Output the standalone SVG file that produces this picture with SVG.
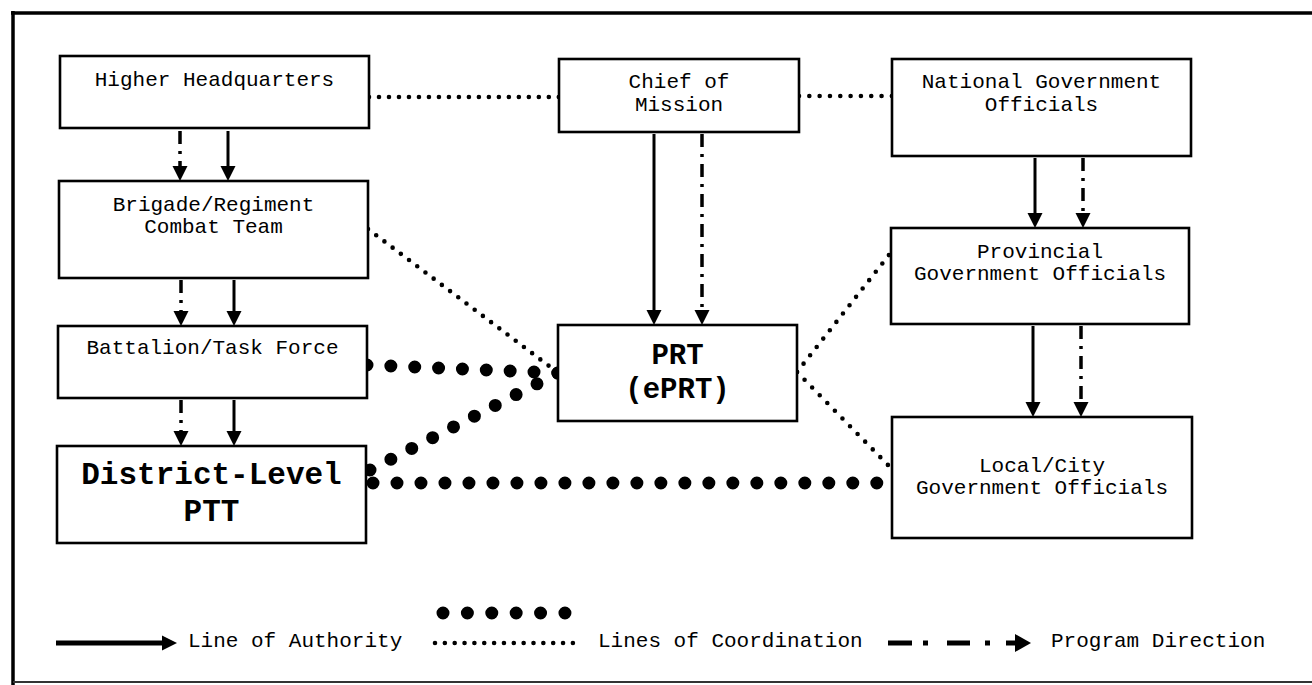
<svg xmlns="http://www.w3.org/2000/svg" width="1312" height="685" viewBox="0 0 1312 685">
<style>
.box{fill:#fff;stroke:#000;stroke-width:2.6}
.t{font-family:"Liberation Mono","Courier New",monospace;font-size:21px;fill:#000;text-anchor:middle}
.tb{font-family:"Liberation Mono","Courier New",monospace;font-size:31px;font-weight:bold;fill:#000;text-anchor:middle}
.tp{font-family:"Liberation Mono","Courier New",monospace;font-size:29px;font-weight:bold;fill:#000;text-anchor:middle}
.lg{font-family:"Liberation Mono","Courier New",monospace;font-size:21px;fill:#000}
.auth{stroke:#000;stroke-width:3;fill:none;marker-end:url(#ah)}
.prog{stroke:#000;stroke-width:3.5;fill:none;stroke-dasharray:13 7 3 7;marker-end:url(#ah)}
.ds{stroke:#000;stroke-width:4.6;stroke-linecap:round;fill:none}
.db{stroke:#000;stroke-width:13;stroke-linecap:round;fill:none}
</style>
<defs>
<marker id="ah" markerUnits="userSpaceOnUse" markerWidth="16" markerHeight="16" refX="1" refY="7.5" orient="auto">
<path d="M0,0 L15,7.5 L0,15 z" fill="#000"/>
</marker>
</defs>
<rect x="0" y="0" width="1312" height="685" fill="#fff"/>
<g id="frame">
<line x1="11" y1="13" x2="1312" y2="13" stroke="#000" stroke-width="3.5"/>
<line x1="13" y1="11" x2="13" y2="685" stroke="#000" stroke-width="3.5"/>
<line x1="13" y1="682" x2="1312" y2="682" stroke="#333" stroke-width="2"/>
</g>
<g id="connectors">
<line class="auth" x1="228" y1="131" x2="228" y2="167"/>
<line class="prog" x1="180" y1="131" x2="180" y2="167"/>
<line class="auth" x1="234" y1="280" x2="234" y2="312"/>
<line class="prog" x1="181" y1="280" x2="181" y2="312"/>
<line class="auth" x1="234" y1="400" x2="234" y2="432"/>
<line class="prog" x1="181" y1="400" x2="181" y2="432"/>
<line class="auth" x1="654" y1="134" x2="654" y2="311"/>
<line class="prog" x1="702" y1="134" x2="702" y2="311"/>
<line class="auth" x1="1035" y1="158" x2="1035" y2="214"/>
<line class="prog" x1="1083" y1="158" x2="1083" y2="214"/>
<line class="auth" x1="1033" y1="326" x2="1033" y2="403"/>
<line class="prog" x1="1081" y1="326" x2="1081" y2="403"/>
<line class="ds" x1="369" y1="97" x2="559" y2="97" stroke-dasharray="0 9.99"/>
<line class="ds" x1="799" y1="96" x2="892" y2="96" stroke-dasharray="0 10.32"/>
<line class="ds" x1="368" y1="229" x2="557" y2="372" stroke-dasharray="0 10.29"/>
<line class="ds" x1="797" y1="372" x2="889" y2="255" stroke-dasharray="0 10.62"/>
<line class="ds" x1="797" y1="372" x2="888" y2="465" stroke-dasharray="0 10.83"/>
<line class="db" x1="367" y1="365" x2="558" y2="373" stroke-dasharray="0 23.88"/>
<line class="db" x1="370" y1="470" x2="558" y2="373" stroke-dasharray="0 23.49"/>
<line class="db" x1="373" y1="483" x2="877" y2="483" stroke-dasharray="0 23.99"/>
</g>
<g id="hhq">
<rect class="box" x="60" y="56" width="309" height="72"/>
<text class="t" x="214.5" y="86">Higher Headquarters</text>
</g>
<g id="chief">
<rect class="box" x="559" y="59" width="240" height="73"/>
<text class="t" x="679" y="88">Chief of</text>
<text class="t" x="679" y="111">Mission</text>
</g>
<g id="national">
<rect class="box" x="892" y="59" width="299" height="97"/>
<text class="t" x="1041.5" y="88">National Government</text>
<text class="t" x="1041.5" y="111">Officials</text>
</g>
<g id="brigade">
<rect class="box" x="59" y="181" width="309" height="97"/>
<text class="t" x="213.5" y="211">Brigade/Regiment</text>
<text class="t" x="213.5" y="233">Combat Team</text>
</g>
<g id="provincial">
<rect class="box" x="891" y="228" width="298" height="96"/>
<text class="t" x="1040" y="258">Provincial</text>
<text class="t" x="1040" y="280">Government Officials</text>
</g>
<g id="battalion">
<rect class="box" x="58" y="326" width="309" height="72"/>
<text class="t" x="212.5" y="354">Battalion/Task Force</text>
</g>
<g id="district">
<rect class="box" x="57" y="446" width="309" height="97"/>
<text class="tb" x="211.5" y="484">District-Level</text>
<text class="tb" x="211.5" y="521">PTT</text>
</g>
<g id="prt">
<rect class="box" x="558" y="325" width="239" height="96"/>
<text class="tp" x="677.5" y="364">PRT</text>
<text class="tp" x="677.5" y="398">(ePRT)</text>
</g>
<g id="local">
<rect class="box" x="892" y="417" width="300" height="121"/>
<text class="t" x="1042" y="472">Local/City</text>
<text class="t" x="1042" y="494">Government Officials</text>
</g>
<g id="legend">
<line x1="56" y1="643" x2="164" y2="643" stroke="#000" stroke-width="5"/>
<polygon points="162,635.5 177,643 162,650.5" fill="#000"/>
<text class="lg" x="188" y="647">Line of Authority</text>
<line class="db" x1="443" y1="613" x2="565" y2="613" stroke-width="12" stroke-dasharray="0 24.39"/>
<line class="ds" x1="435" y1="643" x2="573" y2="643" stroke-width="4" stroke-dasharray="0 9.85"/>
<text class="lg" x="598" y="647">Lines of Coordination</text>
<rect x="888" y="640.5" width="24" height="5" fill="#000"/>
<rect x="923" y="640.5" width="5" height="5" fill="#000"/>
<rect x="947" y="640.5" width="23" height="5" fill="#000"/>
<rect x="985" y="640.5" width="5" height="5" fill="#000"/>
<line x1="1006" y1="643" x2="1017" y2="643" stroke="#000" stroke-width="5"/>
<polygon points="1015,634 1031,643 1015,652" fill="#000"/>
<text class="lg" x="1051" y="647">Program Direction</text>
</g>
</svg>
